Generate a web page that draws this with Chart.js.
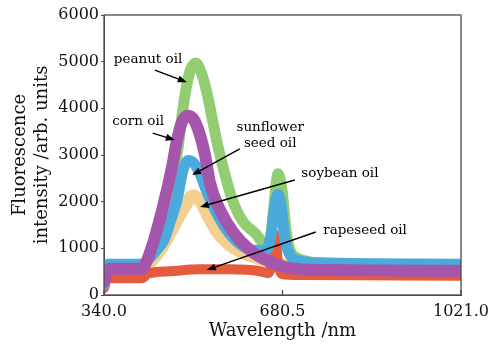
<!DOCTYPE html>
<html>
<head>
<meta charset="utf-8">
<script src="https://cdn.jsdelivr.net/npm/chart.js@4.4.1/dist/chart.umd.min.js"></script>
<style>
    html, body { margin: 0; padding: 0; background: #fff; }
    #wrap { width: 504px; height: 347px; }
</style>
</head>
<body>
<div id="wrap"><canvas id="oilChart" width="504" height="347"></canvas></div>
<script>
// --- data (wavelength nm / intensity arb. units) --- //
const xTicks = [340, 680.5, 1021];
const yTicks = [0, 1000, 2000, 3000, 4000, 5000, 6000];

const peanutWl  = [340, 347.6, 412.5, 427.7, 446.8, 465.9, 481.2, 492.6, 504.1, 515.5, 526.9, 538.4, 546.0, 557.5, 570.8, 586.1, 605.2, 628.0, 647.1, 656.7, 664.3, 671.9, 679.6, 687.2, 694.8, 706.3, 733.0, 771.1, 1021];
const peanutInt = [280, 620, 620, 800, 1300, 2100, 3150, 4150, 4800, 4970, 4720, 4230, 3800, 3180, 2580, 2000, 1570, 1330, 1110, 1180, 1930, 2600, 2250, 1390, 960, 810, 710, 660, 620];

const soybeanWl  = [340, 347.6, 412.5, 427.7, 446.8, 465.9, 481.2, 496.4, 509.8, 523.1, 538.4, 553.6, 580.4, 614.7, 641.4, 675.7, 733.0, 1021];
const soybeanInt = [220, 600, 600, 700, 960, 1330, 1650, 1950, 2120, 2020, 1710, 1390, 1070, 860, 770, 660, 600, 580];

const rapeseedWl  = [340, 345.7, 412.5, 423.9, 465.9, 523.1, 580.4, 637.6, 652.8, 660.5, 666.2, 671.9, 679.6, 713.9, 1021];
const rapeseedInt = [150, 360, 360, 460, 510, 550, 550, 510, 470, 710, 1290, 710, 450, 430, 410];

const sunflowerWl  = [340, 347.6, 412.5, 427.7, 442.9, 454.4, 465.9, 479.3, 490.7, 500.2, 511.7, 523.1, 534.6, 546.0, 570.8, 599.4, 628.0, 649.0, 658.6, 666.2, 671.9, 677.7, 685.3, 694.8, 713.9, 752.0, 1021];
const sunflowerInt = [220, 660, 660, 800, 1000, 1180, 1560, 2040, 2680, 2880, 2820, 2600, 2260, 1960, 1450, 1090, 960, 960, 1290, 1930, 2160, 1930, 1180, 860, 730, 690, 660];

const cornWl  = [340, 351.4, 412.5, 420.1, 435.4, 452.5, 469.7, 479.3, 488.8, 500.2, 511.7, 523.1, 532.7, 542.2, 561.3, 586.1, 618.5, 649.0, 685.3, 733.0, 1021];
const cornInt = [280, 560, 560, 690, 1180, 1890, 2740, 3320, 3710, 3840, 3750, 3430, 3000, 2400, 1820, 1350, 960, 750, 600, 540, 520];

// labels with arrows, placed in data units
const notes = [
    { text: ['peanut oil'], at: [424, 5040], from: [437, 4820], to: [498, 4560] },
    { text: ['corn oil'], at: [405, 3710], from: [433, 3470], to: [475, 3320] },
    { text: ['sunflower', 'seed oil'], at: [657, 3600], from: [599, 3130], to: [508, 2570] },
    { text: ['soybean oil'], at: [790, 2614], from: [704, 2464], to: [523, 1886] },
    { text: ['rapeseed oil'], at: [838, 1372], from: [744, 1350], to: [536, 536] }
];

const zip = (xs, ys) => xs.map((x, i) => ({ x: x, y: ys[i] }));

const band = (label, xs, ys, color, width) => ({
    label: label,
    data: zip(xs, ys),
    borderColor: color,
    backgroundColor: color,
    borderWidth: width,
    borderJoinStyle: 'round',
    borderCapStyle: 'round',
    pointRadius: 0,
    cubicInterpolationMode: 'monotone',
    fill: false
});

// --- frame, inner x ticks + annotation drawing --- //
const annotate = {
    id: 'annotate',
    afterDraw(chart) {
        const { ctx, chartArea: a, scales: { x, y } } = chart;
        ctx.save();
        ctx.strokeStyle = '#4a4a4a';
        ctx.lineWidth = 1.3;
        ctx.strokeRect(a.left, a.top, a.right - a.left, a.bottom - a.top);
        xTicks.forEach(v => {
            const px = x.getPixelForValue(v);
            ctx.beginPath();
            ctx.moveTo(px, a.bottom);
            ctx.lineTo(px, a.bottom - 5);
            ctx.stroke();
        });

        ctx.fillStyle = '#000';
        ctx.strokeStyle = '#000';
        ctx.font = '13.5px "DejaVu Serif"';
        ctx.textAlign = 'center';
        ctx.textBaseline = 'middle';
        notes.forEach(n => {
            const tx = x.getPixelForValue(n.at[0]);
            const ty = y.getPixelForValue(n.at[1]);
            n.text.forEach((t, i) => ctx.fillText(t, tx, ty + i * 16));

            const x1 = x.getPixelForValue(n.from[0]), y1 = y.getPixelForValue(n.from[1]);
            const x2 = x.getPixelForValue(n.to[0]), y2 = y.getPixelForValue(n.to[1]);
            const ang = Math.atan2(y2 - y1, x2 - x1);
            const hl = 9, hw = 3.5;
            ctx.lineWidth = 1.4;
            ctx.beginPath();
            ctx.moveTo(x1, y1);
            ctx.lineTo(x2 - Math.cos(ang) * hl * 0.8, y2 - Math.sin(ang) * hl * 0.8);
            ctx.stroke();
            ctx.beginPath();
            ctx.moveTo(x2, y2);
            ctx.lineTo(x2 - Math.cos(ang) * hl - Math.sin(ang) * hw, y2 - Math.sin(ang) * hl + Math.cos(ang) * hw);
            ctx.lineTo(x2 - Math.cos(ang) * hl + Math.sin(ang) * hw, y2 - Math.sin(ang) * hl - Math.cos(ang) * hw);
            ctx.closePath();
            ctx.fill();
        });
        ctx.restore();
    }
};

Chart.defaults.font.family = '"DejaVu Serif"';
Chart.defaults.color = '#111';

new Chart(document.getElementById('oilChart').getContext('2d'), {
    type: 'line',
    data: {
        // first dataset is painted on top
        datasets: [
            band('corn oil', cornWl, cornInt, '#a456ac', 12),
            band('sunflower seed oil', sunflowerWl, sunflowerInt, '#4aaadc', 11),
            band('rapeseed oil', rapeseedWl, rapeseedInt, '#e65a3e', 10),
            band('soybean oil', soybeanWl, soybeanInt, '#f3d08f', 13),
            band('peanut oil', peanutWl, peanutInt, '#93cd72', 11)
        ]
    },
    options: {
        responsive: false,
        animation: false,
        layout: { padding: { top: 15, right: 43, left: 0, bottom: 0 } },
        plugins: { legend: { display: false }, tooltip: { enabled: false } },
        scales: {
            x: {
                type: 'linear',
                min: 340,
                max: 1021,
                afterBuildTicks: s => { s.ticks = xTicks.map(v => ({ value: v })); },
                afterFit: s => { s.height = 52; },
                ticks: { font: { size: 16 }, padding: 7, maxRotation: 0, callback: v => v.toFixed(1) },
                grid: { display: true, drawOnChartArea: false, drawTicks: false, color: '#4a4a4a' },
                border: { display: true, color: '#4a4a4a' },
                title: { display: true, text: 'Wavelength /nm', font: { size: 18 }, padding: { top: 0, bottom: 5 } }
            },
            y: {
                min: 0,
                max: 6000,
                afterBuildTicks: s => { s.ticks = yTicks.map(v => ({ value: v })); },
                afterFit: s => { s.width = 104; },
                ticks: { font: { size: 16 }, padding: 2, callback: v => String(v) },
                grid: { display: true, drawOnChartArea: false, tickLength: 3, color: '#4a4a4a' },
                border: { display: true, color: '#4a4a4a' },
                title: {
                    display: true,
                    text: ['Fluorescence', 'intensity /arb. units'],
                    font: { size: 18, lineHeight: 1.2 },
                    padding: { top: 10, bottom: 0 }
                }
            }
        }
    },
    plugins: [annotate]
});
</script>
</body>
</html>
